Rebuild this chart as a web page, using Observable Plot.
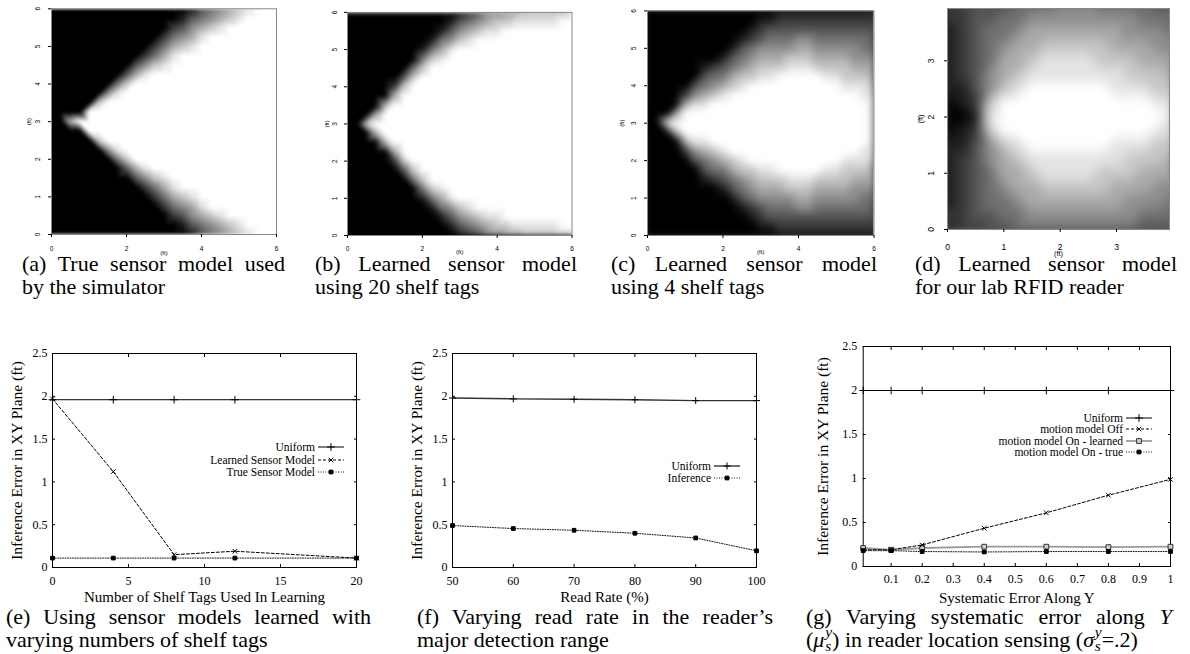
<!DOCTYPE html>
<html><head><meta charset="utf-8">
<script src="https://cdn.jsdelivr.net/npm/d3@7"></script>
<script src="https://cdn.jsdelivr.net/npm/@observablehq/plot@0.6"></script>
<style>
html,body{margin:0;padding:0;background:#fff;}
#root{position:relative;width:1190px;height:654px;overflow:hidden;background:#fff;}
.plot{position:absolute;}
.cap{position:absolute;font-family:"Liberation Serif","Times New Roman",serif;font-size:22px;line-height:23px;color:#000;}
.cap .l1{text-align:justify;text-align-last:justify;}
.cap .l2{text-align:left;white-space:nowrap;}
.legrow{position:absolute;display:flex;align-items:center;height:14px;font-family:"Liberation Serif","Times New Roman",serif;font-size:11.5px;color:#000;}
.legtxt{display:inline-block;width:260px;text-align:right;white-space:nowrap;}
.ss{display:inline-block;position:relative;width:0.5em;height:1em;font-size:0.7em;font-style:italic;}
.ss span{position:absolute;left:0.05em;line-height:1;}
.ss .sup{top:-0.49em;}
.ss .sub{top:0.42em;}
</style></head>
<body><div id="root"></div>
<script>
// ---------- data ----------
const GRID6_X = [0,0.25,0.5,0.75,1,1.25,1.5,1.75,2,2.25,2.5,2.75,3,3.25,3.5,3.75,4,4.25,4.5,4.75,5,5.25,5.5,5.75,6];
const GRID6_Y = [6,5.75,5.5,5.25,5,4.75,4.5,4.25,4,3.75,3.5,3.25,3,2.75,2.5,2.25,2,1.75,1.5,1.25,1,0.75,0.5,0.25,0];
const GRID4_X = [0,0.25,0.5,0.75,1,1.25,1.5,1.75,2,2.25,2.5,2.75,3,3.25,3.5,3.75,4];
const GRID4_Y = [4,3.75,3.5,3.25,3,2.75,2.5,2.25,2,1.75,1.5,1.25,1,0.75,0.5,0.25,0];

// grey level 0 (black) .. 9 (white), rows from top (y max) to bottom (y = 0)
const HEAT_A = [
"0000000000000001345678999",
"0000000000000013456789999",
"0000000000000235678999999",
"0000000000002456899999999",
"0000000000024678999999999",
"0000000000246899999999999",
"0000000003578999999999999",
"0000000036899999999999999",
"0000000479999999999999999",
"0000005899999999999999999",
"0000079999999999999999999",
"0000999999999999999999999",
"0069999999999999999999999",
"0000999999999999999999999",
"0000079999999999999999999",
"0000005899999999999999999",
"0000000479999999999999999",
"0000000036899999999999999",
"0000000003578999999999999",
"0000000000246899999999999",
"0000000000024678999999999",
"0000000000002456899999999",
"0000000000000235678999999",
"0000000000000013456789999",
"0000000000000001345678999"
];
const HEAT_B = [
"0000000000001235566777778",
"0000000000013456778888899",
"0000000000135678899999999",
"0000000001457899999999999",
"0000000014689999999999999",
"0000000047899999999999999",
"0000000479999999999999999",
"0000003799999999999999999",
"0000027999999999999999999",
"0000069999999999999999999",
"0000699999999999999999999",
"0006999999999999999999999",
"0079999999999999999999999",
"0006999999999999999999999",
"0000699999999999999999999",
"0000069999999999999999999",
"0000027999999999999999999",
"0000003799999999999999999",
"0000000479999999999999999",
"0000000047899999999999999",
"0000000014689999999999999",
"0000000001457899999999999",
"0000000000135678899999999",
"0000000000013456778888899",
"0000000000001235566777778"
];
const HEAT_C = [
"0000000000000011111111111",
"0000000000001122222222222",
"0000000000012333333333333",
"0000000000123444554444443",
"0000000001345555665555544",
"0000000013456667776666555",
"0000001234567778887777666",
"0000003446778899999887776",
"0000034567899999999998887",
"0000256789999999999999988",
"0000688999999999999999998",
"0006999999999999999999998",
"0079999999999999999999998",
"0006999999999999999999998",
"0000688999999999999999998",
"0000256789999999999999988",
"0000034567899999999998887",
"0000003446778899999887776",
"0000001234567778887777666",
"0000000013456667776666555",
"0000000001345555665555544",
"0000000000123444554444443",
"0000000000012333333333333",
"0000000000001122222222222",
"0000000000000011111111111"
];
const HEAT_D = [
"22333444555444433",
"22334455555555444",
"12344566666665554",
"12345667777766655",
"12346678888777666",
"12356788888887776",
"11357899999988877",
"01279999999999988",
"00189999999999998",
"01279999999999988",
"11357899999988877",
"12356788888887776",
"12346678888777666",
"12345667777766655",
"12344566666665554",
"22334455555555444",
"12233444444444333"
];
const HEAT_TICKS_X6 = [0, 2, 4, 6];
const HEAT_TICKS_Y6 = [0, 1, 2, 3, 4, 5, 6];
const HEAT_TICKS_4 = [0, 1, 2, 3];
const HEAT_LABEL = "(ft)";

const ERR_TICKS = [0, 0.5, 1, 1.5, 2, 2.5];
const ERR_LABEL = "Inference Error in XY Plane (ft)";

// (e)
const TAGS = [0, 4, 8, 12, 20];
const TAG_TICKS = [0, 5, 10, 15, 20];
const E_UNIFORM = [1.96, 1.96, 1.96, 1.96, 1.96];
const E_LEARNED = [1.97, 1.12, 0.15, 0.19, 0.11];
const E_TRUE = [0.11, 0.11, 0.11, 0.11, 0.11];
const E_NAMES = ["Uniform", "Learned Sensor Model", "True Sensor Model"];
const E_XLABEL = "Number of Shelf Tags Used In Learning";

// (f)
const RATES = [50, 60, 70, 80, 90, 100];
const RATE_TICKS = [50, 60, 70, 80, 90, 100];
const F_UNIFORM = [1.98, 1.97, 1.965, 1.96, 1.95, 1.95];
const F_INFER = [0.49, 0.455, 0.435, 0.40, 0.345, 0.195];
const F_NAMES = ["Uniform", "Inference"];
const F_XLABEL = "Read Rate (%)";

// (g)
const SYS = [0.01, 0.1, 0.2, 0.4, 0.6, 0.8, 1.0];
const SYS_TICKS = [0.1, 0.2, 0.3, 0.4, 0.5, 0.6, 0.7, 0.8, 0.9, 1];
const G_UNIFORM = [2, 2, 2, 2, 2, 2, 2];
const G_OFF = [0.19, 0.19, 0.245, 0.435, 0.61, 0.81, 0.99];
const G_LEARNED = [0.21, 0.19, 0.21, 0.225, 0.225, 0.22, 0.225];
const G_TRUE = [0.18, 0.18, 0.17, 0.165, 0.17, 0.17, 0.17];
const G_NAMES = ["Uniform", "motion model Off", "motion model On - learned", "motion model On - true"];
const G_XLABEL = "Systematic Error Along Y";

const CAPTIONS = [
  {l1: "(a) True sensor model used", l2: "by the simulator"},
  {l1: "(b) Learned sensor model", l2: "using 20 shelf tags"},
  {l1: "(c) Learned sensor model", l2: "using 4 shelf tags"},
  {l1: "(d) Learned sensor model", l2: "for our lab RFID reader"},
  {l1: "(e) Using sensor models learned with", l2: "varying numbers of shelf tags"},
  {l1: "(f) Varying read rate in the reader\u2019s", l2: "major detection range"},
  {l1: "(g) Varying systematic error along <i>Y</i>",
   l2: "(<i>\u03bc</i><span class=\"ss\"><span class=\"sup\">y</span><span class=\"sub\">s</span></span>) in reader location sensing (<i>\u03c3</i><span class=\"ss\"><span class=\"sup\">y</span><span class=\"sub\">s</span></span>=.2)"}
];

// ---------- styles ----------
const STYLES = {
  uniform: {stroke: "#000", width: 1, dash: null, symbol: "plus", r: 2.6, fill: "none", mstroke: "#000"},
  uniformF: {stroke: "#333", width: 1.4, dash: null, symbol: "plus", r: 2.4, fill: "none", mstroke: "#000"},
  dashed: {stroke: "#000", width: 1, dash: "3,2", symbol: "times", r: 2.2, fill: "none", mstroke: "#000"},
  dotted: {stroke: "#111", width: 1, dash: "1,1.5", symbol: "square", r: 2.1, fill: "#000", mstroke: "#000"},
  grey: {stroke: "#9a9a9a", width: 1.8, dash: null, symbol: "square", r: 2.7, fill: "#cfcfcf", mstroke: "#333"}
};

const root = document.getElementById("root");
function put(node, left, top) {
  node.classList.add("plot");
  node.style.left = left + "px";
  node.style.top = top + "px";
  root.appendChild(node);
}

function heatmap(rows, xs, ys, o) {
  const cells = [];
  rows.forEach((row, i) => {
    for (let j = 0; j < row.length; j++) cells.push({x: xs[j], y: ys[i], v: +row[j]});
  });
  const sx = (xs[1] - xs[0]) / 2, sy = (ys[0] - ys[1]) / 2;
  const svg = Plot.plot({
    width: o.width, height: o.height,
    marginLeft: o.ml, marginRight: o.mr, marginTop: o.mt, marginBottom: o.mb,
    style: {fontFamily: "'Liberation Sans', Arial, sans-serif", fontSize: o.fs + "px", background: "transparent", overflow: "visible", color: "#000"},
    x: {domain: o.xDomain},
    y: {domain: o.yDomain},
    color: {type: "linear", domain: [0, 9], range: ["#000", "#fff"]},
    marks: [
      Plot.raster(cells, {x: "x", y: "y", fill: "v", interpolate: "barycentric",
        x1: xs[0] - sx, x2: xs[xs.length - 1] + sx, y1: ys[ys.length - 1] - sy, y2: ys[0] + sy,
        clip: true}),
      Plot.frame({stroke: "#888"}),
      Plot.axisX({ticks: o.xTicks, tickSize: 3, tickPadding: o.xpad, tickFormat: d => String(d), label: null}),
      Plot.axisY({ticks: o.yTicks, tickSize: 3, tickPadding: o.ypad, tickRotate: -90, tickFormat: d => String(d), label: null}),
      Plot.text([HEAT_LABEL], {text: d => d, frameAnchor: "bottom", dy: o.lx, fontSize: o.lfs, textAnchor: "middle", lineAnchor: "middle"}),
      Plot.text([HEAT_LABEL], {text: d => d, frameAnchor: "left", dx: -o.ly, rotate: -90, fontSize: o.lfs, textAnchor: "middle", lineAnchor: "middle"})
    ]
  });
  svg.querySelectorAll("image").forEach(im => { im.style.filter = `blur(${o.blur}px)`; });
  return svg;
}

function linePlot(o) {
  const marks = [
    Plot.frame({stroke: "#000", strokeWidth: 1}),
    Plot.axisX({anchor: "bottom", ticks: o.xTicks, tickSize: -3, tickPadding: o.xpad, tickFormat: d => String(d), label: null}),
    Plot.axisX({anchor: "top", ticks: o.xTicks, tickSize: -3, tickFormat: () => "", label: null}),
    Plot.axisY({anchor: "left", ticks: ERR_TICKS, tickSize: -3, tickPadding: o.ypad, tickFormat: d => String(d), label: null}),
    Plot.axisY({anchor: "right", ticks: ERR_TICKS, tickSize: -3, tickFormat: () => "", label: null})
  ];
  for (const s of o.series) {
    const st = STYLES[s.style];
    const pts = o.xs.map((x, i) => ({x, y: s.values[i]}));
    marks.push(Plot.line(pts, {x: "x", y: "y", stroke: st.stroke, strokeWidth: st.width, strokeDasharray: st.dash}));
    marks.push(Plot.dot(pts, {x: "x", y: "y", symbol: st.symbol, r: st.r, stroke: st.mstroke, fill: st.fill, strokeWidth: 1}));
  }
  marks.push(Plot.text([o.xlabel], {text: d => d, frameAnchor: "bottom", dy: o.lx, fontSize: 15, textAnchor: "middle", lineAnchor: "middle"}));
  marks.push(Plot.text([ERR_LABEL], {text: d => d, frameAnchor: "left", dx: -o.ly, rotate: -90, fontSize: 15.5, textAnchor: "middle", lineAnchor: "middle"}));
  return Plot.plot({
    width: o.width, height: o.height,
    marginLeft: o.ml, marginRight: o.mr, marginTop: o.mt, marginBottom: o.mb,
    style: {fontFamily: "'Liberation Serif', 'Times New Roman', serif", fontSize: "12px", background: "transparent", overflow: "visible", color: "#000"},
    x: {domain: o.xDomain},
    y: {domain: [0, 2.5]},
    marks
  });
}

function sample(st) {
  const svg = d3.create("svg").attr("width", 26).attr("height", 10)
    .style("margin-left", "3px").style("overflow", "visible");
  svg.append("line").attr("x1", 0).attr("x2", 26).attr("y1", 5).attr("y2", 5)
    .attr("stroke", st.stroke).attr("stroke-width", st.width).attr("stroke-dasharray", st.dash);
  const sym = {plus: d3.symbolPlus, times: d3.symbolTimes, square: d3.symbolSquare}[st.symbol];
  svg.append("path").attr("transform", "translate(13,5)")
    .attr("d", d3.symbol(sym, Math.PI * st.r * st.r)())
    .attr("fill", st.fill).attr("stroke", st.mstroke).attr("stroke-width", 1);
  return svg.node();
}

function legend(names, styles, rightX, firstY, step) {
  names.forEach((name, i) => {
    const row = document.createElement("div");
    row.className = "legrow";
    row.style.left = (rightX - 260) + "px";
    row.style.top = (firstY + i * step - 7) + "px";
    const span = document.createElement("span");
    span.className = "legtxt";
    span.textContent = name;
    row.appendChild(span);
    row.appendChild(sample(STYLES[styles[i]]));
    root.appendChild(row);
  });
}

function caption(c, left, top, width) {
  const d = document.createElement("div");
  d.className = "cap";
  d.style.left = left + "px";
  d.style.top = top + "px";
  d.style.width = width + "px";
  d.innerHTML = `<div class="l1">${c.l1}</div><div class="l2">${c.l2}</div>`;
  root.appendChild(d);
}

// ---------- heatmaps ----------
put(heatmap(HEAT_A, GRID6_X, GRID6_Y, {width: 300, height: 262, ml: 51, mr: 24, mt: 8.3, mb: 28,
  xDomain: [0, 6], yDomain: [0, 6], xTicks: HEAT_TICKS_X6, yTicks: HEAT_TICKS_Y6,
  fs: 6.5, xpad: 8.5, ypad: 8.5, lx: 18.5, ly: 22, lfs: 6, blur: 1.6}), 0, 0);
put(heatmap(HEAT_B, GRID6_X, GRID6_Y, {width: 300, height: 262, ml: 57, mr: 18.5, mt: 11.9, mb: 27,
  xDomain: [0, 6], yDomain: [0, 6], xTicks: HEAT_TICKS_X6, yTicks: HEAT_TICKS_Y6,
  fs: 6.5, xpad: 8, ypad: 8, lx: 17, ly: 20, lfs: 6, blur: 2.2}), 290, 0);
put(heatmap(HEAT_C, GRID6_X, GRID6_Y, {width: 300, height: 262, ml: 57, mr: 16.5, mt: 10.4, mb: 27,
  xDomain: [0, 6], yDomain: [0, 6], xTicks: HEAT_TICKS_X6, yTicks: HEAT_TICKS_Y6,
  fs: 6.5, xpad: 8, ypad: 8.5, lx: 17, ly: 25, lfs: 6, blur: 3}), 590, 0);
put(heatmap(HEAT_D, GRID4_X, GRID4_Y, {width: 300, height: 262, ml: 57, mr: 21, mt: 8, mb: 33,
  xDomain: [0, 3.94], yDomain: [0, 3.93], xTicks: HEAT_TICKS_4, yTicks: HEAT_TICKS_4,
  fs: 8.5, xpad: 11.5, ypad: 11, lx: 24.5, ly: 27, lfs: 7.5, blur: 4}), 890, 0);

// ---------- line charts ----------
put(linePlot({width: 390, height: 290, ml: 52, mr: 34, mt: 23, mb: 53,
  xDomain: [0, 20], xTicks: TAG_TICKS, xs: TAGS, xpad: 11.7, ypad: 8, lx: 30, ly: 35.3, xlabel: E_XLABEL,
  series: [{values: E_UNIFORM, style: "uniform"}, {values: E_LEARNED, style: "dashed"}, {values: E_TRUE, style: "dotted"}]
}), 0, 330);
put(linePlot({width: 390, height: 290, ml: 52, mr: 34, mt: 23, mb: 53,
  xDomain: [50, 100], xTicks: RATE_TICKS, xs: RATES, xpad: 11.7, ypad: 8, lx: 30, ly: 35.3, xlabel: F_XLABEL,
  series: [{values: F_UNIFORM, style: "uniformF"}, {values: F_INFER, style: "dotted"}]
}), 400, 330);
put(linePlot({width: 400, height: 290, ml: 72.7, mr: 20, mt: 16, mb: 54,
  xDomain: [0.01, 1], xTicks: SYS_TICKS, xs: SYS, xpad: 10.7, ypad: 9, lx: 32, ly: 39.7, xlabel: G_XLABEL,
  series: [{values: G_UNIFORM, style: "uniform"}, {values: G_LEARNED, style: "grey"}, {values: G_TRUE, style: "dotted"}, {values: G_OFF, style: "dashed"}]
}), 790, 330);

legend(E_NAMES, ["uniform", "dashed", "dotted"], 315, 447, 12.5);
legend(F_NAMES, ["uniformF", "dotted"], 711, 466, 12);
legend(G_NAMES, ["uniform", "dashed", "grey", "dotted"], 1123, 418, 11.3);

// ---------- captions ----------
caption(CAPTIONS[0], 22, 252, 263);
caption(CAPTIONS[1], 315, 252, 262);
caption(CAPTIONS[2], 611, 252, 266);
caption(CAPTIONS[3], 915, 252, 262);
caption(CAPTIONS[4], 6, 605, 365);
caption(CAPTIONS[5], 417, 605, 356);
caption(CAPTIONS[6], 806, 605, 366);
</script></body></html>
